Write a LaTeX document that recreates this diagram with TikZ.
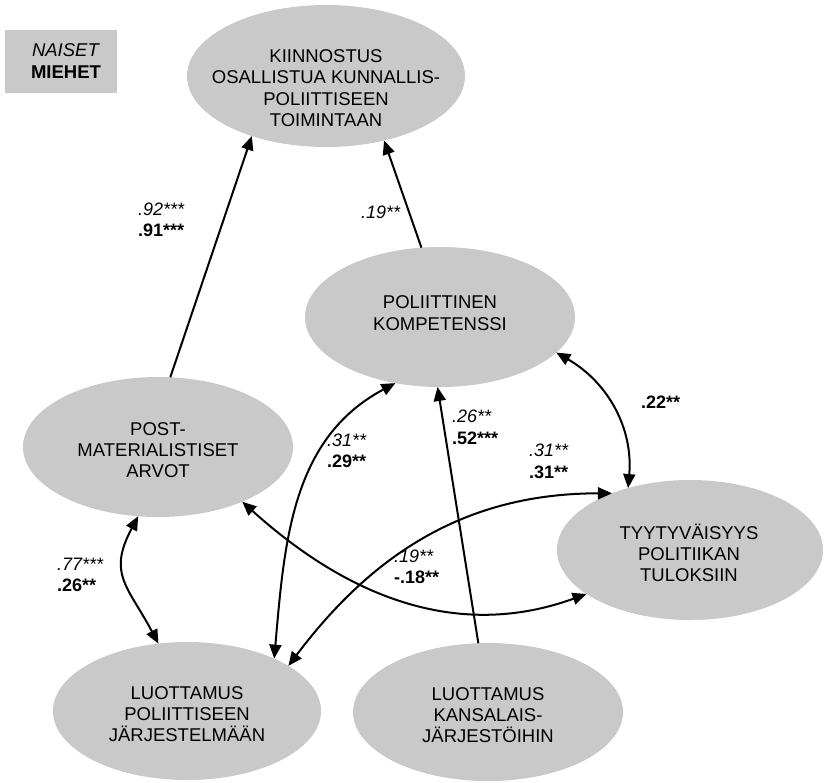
\documentclass[tikz,border=0pt]{standalone}
\usepackage{fontspec}
\setmainfont{Liberation Sans}
\usetikzlibrary{arrows.meta,shapes.geometric}
\definecolor{ellgray}{RGB}{201,201,201}
\begin{document}
\begin{tikzpicture}[x=1pt,y=-1pt,
  ell/.style={ellipse, fill=ellgray, draw=none, inner sep=0pt, outer sep=0pt},
  nodetxt/.style={align=center, font=\fontsize{18.5}{21.3}\selectfont, inner sep=0pt},
  lab/.style={align=left, anchor=west, font=\fontsize{18}{21.5}\selectfont, inner sep=0pt},
  conn/.style={line width=2pt, -{Triangle[length=14pt,width=12pt]}},
  biconn/.style={line width=2pt, {Triangle[length=14pt,width=12pt]}-{Triangle[length=14pt,width=12pt]}}
]
\useasboundingbox (0,0) rectangle (826,782);
% legend
\node[fill=ellgray, minimum width=112pt, minimum height=63pt, inner sep=0pt] (legend) at (61,61.5) {};
\node[align=center, font=\fontsize{18.5}{22}\selectfont, inner sep=0pt] (legendtxt) at (66,61) {\textit{NAISET}\\\textbf{MIEHET}};
% ellipses
\node[ell, minimum width=278pt, minimum height=142pt] (k) at (326,76) {};
\node[ell, minimum width=270pt, minimum height=140pt] (p) at (440,317) {};
\node[ell, minimum width=270pt, minimum height=140pt] (pm) at (158,447) {};
\node[ell, minimum width=266pt, minimum height=140pt] (t) at (690,550) {};
\node[ell, minimum width=268pt, minimum height=138pt] (lp) at (187,711) {};
\node[ell, minimum width=270pt, minimum height=138pt] (lk) at (488,712) {};
% connectors
\draw[conn] (pm.80) -- (k.-141);
\draw[conn] (p.105) -- (k.-48);
\draw[conn] (lk.98) -- (p.-92);
\draw[biconn] (p.-17) to[out=-30,in=85] (t.135);
\draw[biconn] (pm.-106) to[out=-118,in=118,looseness=1.3] (lp.113);
\draw[biconn] (lp.31) to[out=85,in=208] (p.-124);
\draw[biconn] (lp.24) to[out=53,in=180] (t.144);
\draw[biconn] (pm.-33) to[out=-42,in=200,out looseness=1.2,in looseness=0.85] (t.-157);
% texts
\node[nodetxt] (kt) at (326,88) {KIINNOSTUS\\OSALLISTUA KUNNALLIS-\\POLIITTISEEN\\TOIMINTAAN};
\node[nodetxt] (pt) at (440,313) {POLIITTINEN\\KOMPETENSSI};
\node[nodetxt] (pmt) at (158,450) {POST-\\MATERIALISTISET\\ARVOT};
\node[nodetxt] (tt) at (689,553) {TYYTYVÄISYYS\\POLITIIKAN\\TULOKSIIN};
\node[nodetxt] (lpt) at (187,714) {LUOTTAMUS\\POLIITTISEEN\\JÄRJESTELMÄÄN};
\node[nodetxt] (lkt) at (488,715) {LUOTTAMUS\\KANSALAIS-\\JÄRJESTÖIHIN};
% labels
\node[lab] (l1) at (138,220) {\textit{.92***}\\\textbf{.91***}};
\node[lab] (l2) at (361,212) {\textit{.19**}};
\node[lab] (l3) at (641,402) {\textbf{.22**}};
\node[lab] (l4) at (57,575) {\textit{.77***}\\\textbf{.26**}};
\node[lab] (l5) at (327,451) {\textit{.31**}\\\textbf{.29**}};
\node[lab] (l6) at (452,427.5) {\textit{.26**}\\\textbf{.52***}};
\node[lab] (l7) at (529,461.5) {\textit{.31**}\\\textbf{.31**}};
\node[lab] (l8) at (394,567) {\textit{.19**}\\\textbf{-.18**}};
\end{tikzpicture}
\end{document}
